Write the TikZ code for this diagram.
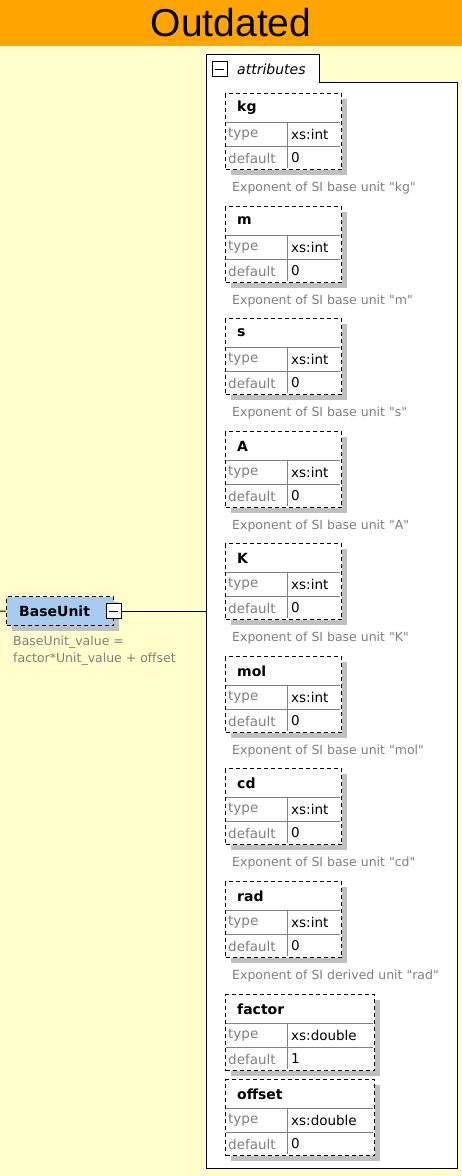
\documentclass[tikz,border=0pt]{standalone}
\usepackage{fontspec}
\setmainfont{DejaVu Sans}
\newfontfamily\headfont{Liberation Sans}
\usetikzlibrary{positioning}
\definecolor{headorange}{RGB}{255,165,0}
\definecolor{paleyellow}{RGB}{255,255,204}
\definecolor{elemblue}{RGB}{168,204,240}
\definecolor{shadowgray}{RGB}{192,192,192}
\definecolor{textgray}{RGB}{128,128,128}
\newcommand{\qt}[1]{\textquotedbl#1\textquotedbl}
\tikzset{
  dashbox/.style={draw, dash pattern=on 4pt off 3pt, line width=1.3pt, inner sep=0pt, anchor=north west},
  gridline/.style={draw=textgray, line width=0.8pt},
  namelbl/.style={anchor=west, inner sep=0pt, font=\fontsize{14}{16}\selectfont\bfseries},
  keylbl/.style={anchor=west, inner sep=0pt, text=textgray, font=\fontsize{13.5}{15}\selectfont},
  vallbl/.style={anchor=west, inner sep=0pt, font=\fontsize{13.5}{15}\selectfont},
  desclbl/.style={anchor=west, inner sep=0pt, text=textgray, font=\fontsize{12.5}{17}\selectfont},
  minusbox/.style={draw, fill=white, minimum size=15pt, inner sep=0pt, line width=0.8pt,
    path picture={\draw[line width=1pt] ([xshift=3pt]path picture bounding box.west) -- ([xshift=-3pt]path picture bounding box.east);}},
}
\begin{document}
\begin{tikzpicture}[x=1pt,y=-1pt]
\useasboundingbox (0,0) rectangle (462,1176);
\fill[paleyellow] (0,0) rectangle (462,1176);
\fill[headorange] (0,0) rectangle (462,46);
\node[font=\headfont\fontsize{39}{39}\selectfont] (title) at (231,23) {Outdated};

% attribute group
\filldraw[fill=white, line width=1pt] (206,1168) -- (206,54) -- (319,54) -- (319,82) -- (457,82) -- (457,1168) -- cycle;
\node[minusbox] (attricon) at (219.5,69) {};
\node[anchor=west, inner sep=0pt, font=\itshape\fontsize{14}{16}\selectfont] (attrlbl) at (237,69) {attributes};
\coordinate (attrs) at (206,611);

\foreach \nm/\ty/\bw/\typ/\dflt/\ds in {
  kg/93/116/int/0/{Exponent of SI base unit \qt{kg}},
  m/206/116/int/0/{Exponent of SI base unit \qt{m}},
  s/318/116/int/0/{Exponent of SI base unit \qt{s}},
  A/431/116/int/0/{Exponent of SI base unit \qt{A}},
  K/543/116/int/0/{Exponent of SI base unit \qt{K}},
  mol/656/116/int/0/{Exponent of SI base unit \qt{mol}},
  cd/768/116/int/0/{Exponent of SI base unit \qt{cd}},
  rad/881/116/int/0/{Exponent of SI derived unit \qt{rad}},
  factor/994/149/double/1/{},
  offset/1079/149/double/0/{}}
{
  \fill[shadowgray] (231,\ty+6) rectangle (225+\bw+6,\ty+82);
  \node[dashbox, fill=white, minimum width=\bw pt, minimum height=76pt] (\nm) at (225,\ty) {};
  \draw[gridline] (226,\ty+29) -- (224+\bw,\ty+29) (226,\ty+53) -- (224+\bw,\ty+53) (287,\ty+29) -- (287,\ty+75);
  \node[namelbl] (\nm-name) at (237,\ty+15) {\nm};
  \node[keylbl] (\nm-type) at (228,\ty+41) {type};
  \node[vallbl] (\nm-tval) at (291,\ty+41) {xs:\typ};
  \node[keylbl] (\nm-dflt) at (228,\ty+65) {default};
  \node[vallbl] (\nm-dval) at (291,\ty+65) {\dflt};
  \ifx\ds\empty\else
    \node[desclbl] (\nm-desc) at (232,\ty+95) {\ds};
  \fi
}

% element
\fill[shadowgray] (12,602) rectangle (119,631);
\node[dashbox, fill=elemblue, minimum width=107pt, minimum height=29pt] (base) at (6,596) {};
\node[namelbl] (baselbl) at (19,611) {BaseUnit};
\node[minusbox] (baseicon) at (113.5,611) {};
\coordinate (entry) at (0,611);
\draw[line width=1pt] (entry) -- (base.west);
\draw[line width=1pt] (baseicon.east) -- (attrs);
\node[desclbl, anchor=north west, align=left] (baseinfo) at (13,636) {BaseUnit\_value =\\factor*Unit\_value + offset};
\end{tikzpicture}
\end{document}
